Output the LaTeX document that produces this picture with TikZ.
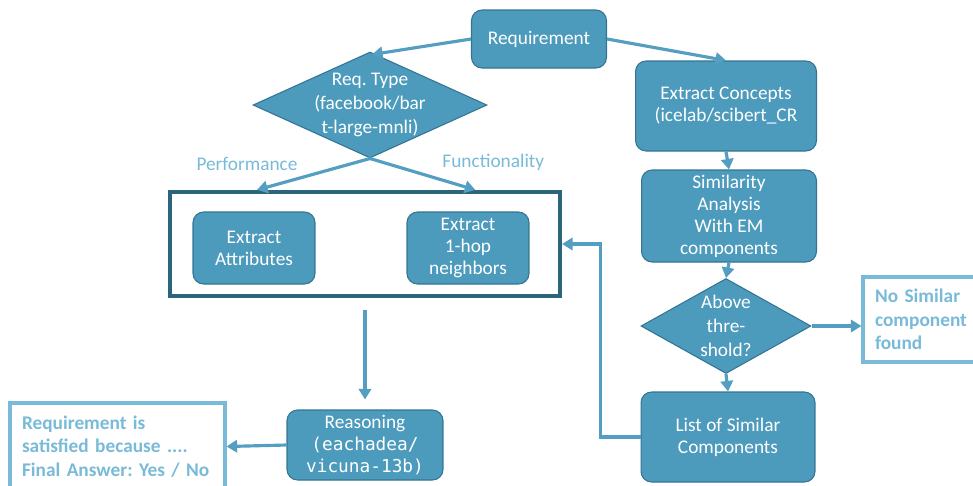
\documentclass[tikz,border=0pt]{standalone}
\usepackage{fontspec}
\setmainfont{Carlito}
\setmonofont[Scale=0.92]{DejaVu Sans Mono}
\usepackage{tikz}
\usetikzlibrary{shapes.geometric, positioning, calc, arrows.meta}
\usepackage{xcolor}
\definecolor{boxfill}{RGB}{76,154,188}
\definecolor{boxline}{RGB}{52,116,146}
\definecolor{framec}{RGB}{44,100,124}
\definecolor{arrowc}{RGB}{84,158,194}
\definecolor{lightc}{RGB}{120,186,216}
\frenchspacing

\begin{document}
\begin{tikzpicture}[x=0.02cm, y=-0.02cm,
   font=\fontsize{11}{12.5}\selectfont,
   box/.style = {draw=boxline, fill=boxfill, rounded corners=6pt, text=white,
                 align=center, inner sep=2pt, line width=0.6pt},
   decision/.style = {diamond, draw=boxline, fill=boxfill, text=white,
                 align=center, inner sep=0pt, line width=0.6pt,
                 font=\fontsize{11}{13.8}\selectfont},
   result/.style = {draw=lightc, line width=1.8pt, text=lightc, align=left,
                 font=\fontsize{11}{13.5}\selectfont\bfseries, inner sep=0pt},
   lbl/.style = {text=lightc},
   arr/.style = {draw=arrowc, line width=1.8pt, -{Triangle[length=6pt, width=7pt]}}]
   \useasboundingbox (0,0) rectangle (973,485);
   % top
   \node[box, minimum width=2.7cm, minimum height=1.16cm] (req) at (539,39) {Requirement};
   \node[decision, aspect=2.2, inner sep=-1.8pt, minimum width=4.68cm,
      minimum height=2.12cm] (rtype) at (370,105)
      {Req. Type\\(facebook/bar\\t-large-mnli)};
   % right column
   \node[box, minimum width=3.62cm, minimum height=1.8cm] (concepts) at (726,106)
      {Extract Concepts\\(icelab/scibert\_CR};
   \node[box, minimum width=3.5cm, minimum height=1.84cm] (simil) at (729,216)
      {Similarity\\Analysis\\With EM\\components};
   \node[decision, aspect=1.79, minimum width=3.4cm, minimum height=1.9cm] (above)
      at (726,326) {Above\\thre-\\shold?};
   \node[box, minimum width=3.48cm, minimum height=1.8cm] (list) at (728,437)
      {List of Similar\\Components};
   \node[result, minimum width=2.6cm, minimum height=1.7cm, text width=2.12cm] (nosim)
      at (928,319.5) {No Similar\\component\\found};
   % extraction
   \node[draw=framec, line width=2.4pt, minimum width=7.8cm, minimum height=2.08cm]
      (frame) at (365,244) {};
   \node[box, minimum width=2.44cm, minimum height=1.44cm] (attr) at (254,248)
      {Extract\\Attributes};
   \node[box, minimum width=2.44cm, minimum height=1.44cm] (hop) at (468,248)
      {Extract\\1-hop\\neighbors};
   \coordinate (perf) at ($(frame.north west)!0.226!(frame.north east)$);
   \coordinate (func) at ($(frame.north west)!0.78!(frame.north east)$);
   % bottom
   \node[box, minimum width=3.12cm, minimum height=1.4cm] (reason) at (365,445)
      {Reasoning\\\texttt{(eachadea/}\\\texttt{vicuna-13b)}};
   \node[result, minimum width=4.3cm, minimum height=1.74cm, text width=3.82cm]
      (answer) at (117.5,446.5)
      {Requirement is\\satisfied because ....\\Final Answer: Yes / No};
   % connectors
   \draw[arr] (req.west) -- ($(rtype.north)+(2,3)$);
   \draw[arr] (req.east) -- (concepts.north);
   \draw[arr] (rtype.south) -- (perf)
      node[lbl, pos=1, above=0.24cm, xshift=-0.2cm] {Performance};
   \draw[arr] (rtype.south) -- (func)
      node[lbl, pos=1, above=0.24cm, xshift=0.36cm] {Functionality};
   \draw[arr] (concepts.south) -- (simil.north);
   \draw[arr] (simil.south) -- (above.north);
   \draw[arr] (above.south) -- (list.north);
   \draw[arr] (above.east) -- (above.east -| nosim.west);
   \draw[arr] (list.west) -- ++(-40,0) |- (frame.east);
   \draw[arr, shorten <=0.24cm, shorten >=0.2cm] (frame.south) -- (reason.north);
   \draw[arr] (reason.west) -- (answer.east);
\end{tikzpicture}
\end{document}
